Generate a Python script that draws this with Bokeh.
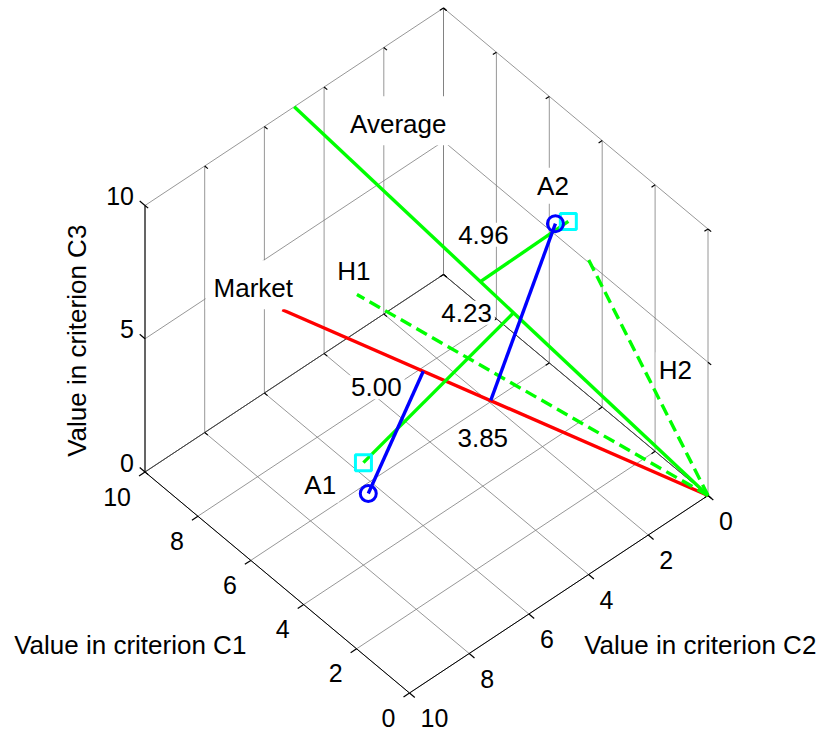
import numpy as np
from bokeh.plotting import figure
from bokeh.models import Range1d
from bokeh.core.properties import value
from bokeh.embed import file_html
from bokeh.resources import INLINE

# ---------------- data (criterion values: C1, C2, C3) ----------------
origin = (0.0, 0.0, 0.0)
market_end = (10.0, 5.4, 2.68)
average_end = (10.0, 5.0, 10.0)
h1_end = (10.0, 2.9, 1.4)
h2_end = (4.6, 0.0, 5.2)

a1_value = (4.38, 7.5, 2.0)       # circles
a2_value = (4.03, 1.54, 8.0)
a1_shifted = (5.24, 6.9, 2.0)     # squares
a2_shifted = (3.87, 1.25, 8.0)

a1_market_foot = (6.69, 3.61, 1.79)
a2_market_foot = (5.11, 2.75, 1.37)
a1_average_foot = (4.70, 2.35, 4.70)
a2_average_foot = (5.50, 2.75, 5.50)

dist_a1_market = "5.00"
dist_a2_market = "3.85"
dist_a1_average = "4.23"
dist_a2_average = "4.96"

c1_ticks = [0, 2, 4, 6, 8, 10]
c2_ticks = [0, 2, 4, 6, 8, 10]
c3_ticks = [0, 5, 10]
axis_min, axis_max = 0, 10
c1_title = "Value in criterion C1"
c2_title = "Value in criterion C2"
c3_title = "Value in criterion C3"

# ---------------- view: orthographic projection of the 3-D box ----------
VIEW_ORIGIN = (707.5, 495.0)
U1 = (-26.45, -22.1)
U2 = (-29.85, 19.75)
U3 = (0.0, -26.65)


def proj(pts):
    a = np.asarray(pts, dtype=float).reshape(-1, 3)
    x = VIEW_ORIGIN[0] + a[:, 0] * U1[0] + a[:, 1] * U2[0] + a[:, 2] * U3[0]
    y = VIEW_ORIGIN[1] + a[:, 0] * U1[1] + a[:, 1] * U2[1] + a[:, 2] * U3[1]
    return x, y


def segs(pairs):
    x0, y0 = proj([a for a, b in pairs])
    x1, y1 = proj([b for a, b in pairs])
    return dict(x0=x0, y0=y0, x1=x1, y1=y1)


W, H = 819, 731
p = figure(width=W, height=H, x_range=Range1d(0, W), y_range=Range1d(H, 0),
           output_backend="svg", toolbar_location=None, min_border=0,
           x_axis_type=None, y_axis_type=None)
p.outline_line_color = None
p.background_fill_color = "white"
p.border_fill_color = "white"

lo, hi = axis_min, axis_max
FONT = value("Liberation Sans")
FS = "26px"
FS_TICK = "25px"

# ---------------- back-wall and floor grid ----------------
grid = []
for v in c2_ticks:
    grid.append(((hi, v, lo), (hi, v, hi)))
for v in c3_ticks:
    grid.append(((hi, lo, v), (hi, hi, v)))
for v in c1_ticks:
    grid.append(((v, lo, lo), (v, lo, hi)))
for v in c3_ticks:
    grid.append(((lo, lo, v), (hi, lo, v)))
for v in c1_ticks:
    grid.append(((v, lo, lo), (v, hi, lo)))
for v in c2_ticks:
    grid.append(((lo, v, lo), (hi, v, lo)))
p.segment(**segs(grid), line_color="#7c7c7c", line_width=0.8)

# back floor edges (darker)
back = [((hi, lo, lo), (hi, hi, lo)), ((lo, lo, lo), (hi, lo, lo))]
p.segment(**segs(back), line_color="#303030", line_width=0.8)

# axis lines
axes = [((hi, hi, lo), (hi, hi, hi)),
        ((lo, hi, lo), (hi, hi, lo)),
        ((lo, lo, lo), (lo, hi, lo))]
p.segment(**segs(axes), line_color="black", line_width=1.0)

# tick marks on axes
tl = 0.2
ticks = []
for v in c3_ticks:
    ticks.append(((hi, hi, v), (hi + tl, hi, v)))
for v in c1_ticks:
    ticks.append(((v, hi, lo), (v, hi + tl, lo)))
for v in c2_ticks:
    ticks.append(((lo, v, lo), (lo - tl, v, lo)))
# small inward ticks on the other box edges
te = 0.12
for v in c2_ticks:
    ticks.append(((hi, v, lo), (hi - te, v, lo)))
    ticks.append(((hi, v, hi), (hi - te, v, hi)))
for v in c1_ticks:
    ticks.append(((v, lo, lo), (v, lo + te, lo)))
    ticks.append(((v, lo, hi), (v, lo + te, hi)))
for v in c3_ticks:
    ticks.append(((lo, lo, v), (lo - te, lo, v)))
    ticks.append(((hi, lo, v), (hi - te, lo, v)))
p.segment(**segs(ticks), line_color="black", line_width=1.2)

# ---------------- data lines ----------------
LW = 3.4
x, y = proj([origin, market_end])
p.line(x, y, line_color="#ff0000", line_width=LW)
x, y = proj([origin, average_end])
p.line(x, y, line_color="#00ff00", line_width=LW)
x, y = proj([origin, h1_end])
p.line(x, y, line_color="#00ff00", line_width=LW, line_dash="12 6")
x, y = proj([origin, h2_end])
p.line(x, y, line_color="#00ff00", line_width=LW, line_dash="12 6")

green = segs([(a1_shifted, a1_average_foot), (a2_shifted, a2_average_foot)])
p.segment(**green, line_color="#00ff00", line_width=LW)
blue = segs([(a1_value, a1_market_foot), (a2_value, a2_market_foot)])
p.segment(**blue, line_color="#0000ff", line_width=LW)

sx, sy = proj([a1_shifted, a2_shifted])
p.scatter(sx, sy, marker="square", size=16, fill_color=None,
          line_color="#00ffff", line_width=3)
cx, cy = proj([a1_value, a2_value])
p.scatter(cx, cy, marker="circle", size=16, fill_color=None,
          line_color="#0000ff", line_width=3)

# ---------------- labels on the chart ----------------
big_txt = ["Average", "Market"]
big_anchor = [average_end, market_end]
big_off = [(104, 14), (-29, -25)]
bx, by = proj(big_anchor)
p.text(x=bx + np.array([o[0] for o in big_off]), y=by + np.array([o[1] for o in big_off]),
       text=big_txt, text_font=FONT, text_font_size=FS, text_align="center",
       text_baseline="middle", text_color="black", background_fill_color="white",
       padding=dict(left=8, right=8, top=13, bottom=6))

lab_txt = ["H1", "H2", "A1", "A2", dist_a1_market, dist_a2_market,
           dist_a1_average, dist_a2_average]
lab_anchor = [h1_end, h2_end, a1_value, a2_value, a1_market_foot, a2_market_foot,
              a1_average_foot, a2_average_foot]
lab_off = [(-3, -23.5), (89, 115), (-48, -9), (-2.5, -38), (-47, 16), (-8, 38),
           (-47, 0), (3, -47)]
lx, ly = proj(lab_anchor)
p.text(x=lx + np.array([o[0] for o in lab_off]), y=ly + np.array([o[1] for o in lab_off]),
       text=lab_txt, text_font=FONT, text_font_size=FS, text_align="center",
       text_baseline="middle", text_color="black", background_fill_color="white",
       padding=3)

# ---------------- tick labels ----------------
tx, ty = proj([(hi, hi, v) for v in c3_ticks])
p.text(x=tx - 11, y=ty - 9.5, text=[str(v) for v in c3_ticks], text_font=FONT,
       text_font_size=FS_TICK, text_align="right", text_baseline="middle", text_color="black")
tx, ty = proj([(v, hi, lo) for v in c1_ticks])
p.text(x=tx - 14, y=ty + 24.5, text=[str(v) for v in c1_ticks], text_font=FONT,
       text_font_size=FS_TICK, text_align="right", text_baseline="middle", text_color="black")
tx, ty = proj([(lo, v, lo) for v in c2_ticks])
p.text(x=tx + 11, y=ty + 25, text=[str(v) for v in c2_ticks], text_font=FONT,
       text_font_size=FS_TICK, text_align="left", text_baseline="middle", text_color="black")

# ---------------- axis titles ----------------
mx, my = proj([(hi, hi, (lo + hi) / 2)])
p.text(x=mx - 68.5, y=my + 2, text=[c3_title], angle=np.pi / 2, text_font=FONT,
       text_font_size=FS, text_align="center", text_baseline="middle", text_color="black")
mx, my = proj([((lo + hi) / 2, hi, lo)])
p.text(x=mx - 147, y=my + 62, text=[c1_title], text_font=FONT,
       text_font_size=FS, text_align="center", text_baseline="middle", text_color="black")
mx, my = proj([(lo, (lo + hi) / 2, lo)])
p.text(x=mx + 141.5, y=my + 51, text=[c2_title], text_font=FONT,
       text_font_size=FS, text_align="center", text_baseline="middle", text_color="black")

open("out.html", "w").write(file_html(p, INLINE))
